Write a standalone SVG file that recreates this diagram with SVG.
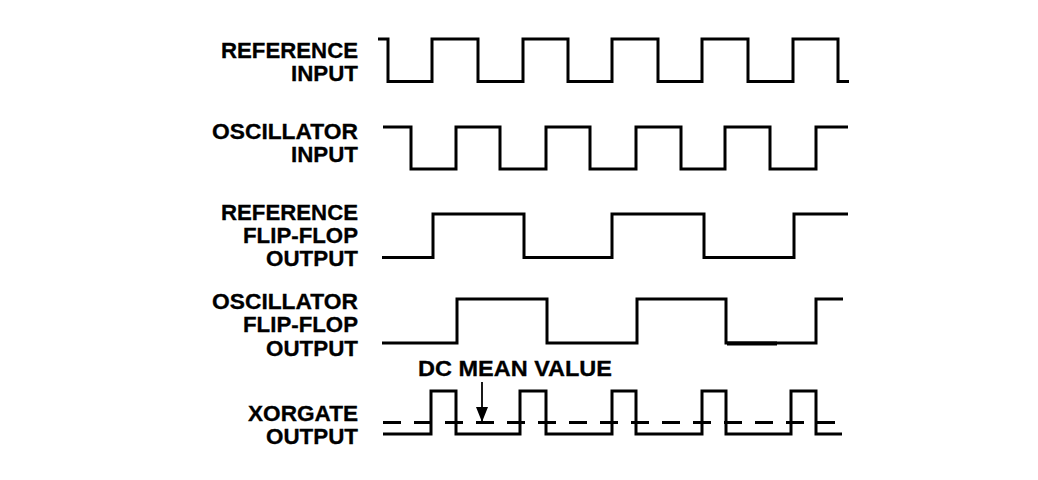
<svg xmlns="http://www.w3.org/2000/svg" width="1038" height="480" viewBox="0 0 1038 480">
<style>
.lbl{font-family:"Liberation Sans",Arial,sans-serif;font-weight:bold;font-size:21.5px;fill:#000;stroke:#000;stroke-width:0.3;text-anchor:end}
.wave{fill:none;stroke:#000;stroke-width:3;stroke-linejoin:miter;stroke-linecap:butt}
.dash{fill:none;stroke:#000;stroke-width:3;stroke-dasharray:18 13}
</style>
<defs>
<marker id="ah" markerWidth="15" markerHeight="12" refX="15" refY="6" orient="auto" markerUnits="userSpaceOnUse" viewBox="0 0 15 12">
<path d="M0,0 L15,6 L0,12 Z" fill="#000"/>
</marker>
</defs>
<rect width="1038" height="480" fill="#fff"/>

<g id="ref-input">
<text class="lbl" x="358" y="57.5" textLength="137" lengthAdjust="spacingAndGlyphs">REFERENCE</text>
<text class="lbl" x="358" y="80.5" textLength="67" lengthAdjust="spacingAndGlyphs">INPUT</text>
<path class="wave" d="M378,39 H388 V81.5 H432 V39 H478 V81.5 H523 V39 H568 V81.5 H612 V39 H658 V81.5 H702 V39 H748 V81.5 H793 V39 H838 V81.5 H849"/>
</g>

<g id="osc-input">
<text class="lbl" x="358" y="138.5" textLength="146" lengthAdjust="spacingAndGlyphs">OSCILLATOR</text>
<text class="lbl" x="358" y="161.5" textLength="67" lengthAdjust="spacingAndGlyphs">INPUT</text>
<path class="wave" d="M383,127 H411 V169 H456 V127 H500 V169 H546 V127 H590 V169 H636 V127 H681 V169 H725 V127 H770 V169 H816 V127 H848"/>
</g>

<g id="ref-ff">
<text class="lbl" x="358" y="220" textLength="137" lengthAdjust="spacingAndGlyphs">REFERENCE</text>
<text class="lbl" x="358" y="243" textLength="115" lengthAdjust="spacingAndGlyphs">FLIP-FLOP</text>
<text class="lbl" x="358" y="266" textLength="92" lengthAdjust="spacingAndGlyphs">OUTPUT</text>
<path class="wave" d="M382,257.5 H433 V214 H524 V257.5 H612 V214 H704 V257.5 H794 V214 H848"/>
</g>

<g id="osc-ff">
<text class="lbl" x="358" y="309" textLength="146" lengthAdjust="spacingAndGlyphs">OSCILLATOR</text>
<text class="lbl" x="358" y="332" textLength="115" lengthAdjust="spacingAndGlyphs">FLIP-FLOP</text>
<text class="lbl" x="358" y="355.5" textLength="92" lengthAdjust="spacingAndGlyphs">OUTPUT</text>
<path class="wave" d="M382,343 H457 V299 H547 V343 H637 V299 H726 V343 H816 V299 H843"/>
<path d="M727,343.5 H777" stroke="#000" stroke-width="4"/>
</g>

<g id="xor-out">
<text class="lbl" x="358" y="420.5" textLength="110" lengthAdjust="spacingAndGlyphs">XORGATE</text>
<text class="lbl" x="358" y="443.5" textLength="92" lengthAdjust="spacingAndGlyphs">OUTPUT</text>
<path class="dash" d="M383,422.5 H842"/>
<path class="wave" d="M383,434 H431 V391 H456 V434 H520 V391 H546 V434 H612 V391 H636 V434 H702 V391 H726 V434 H791 V391 H816 V434 H842"/>
</g>

<g id="dc-mean">
<text class="lbl" x="418" y="375.5" style="text-anchor:start" textLength="194" lengthAdjust="spacingAndGlyphs">DC MEAN VALUE</text>
</g>

<g id="connectors">
<path d="M482,382 V422" stroke="#000" stroke-width="1.8" fill="none" marker-end="url(#ah)"/>
</g>
</svg>
